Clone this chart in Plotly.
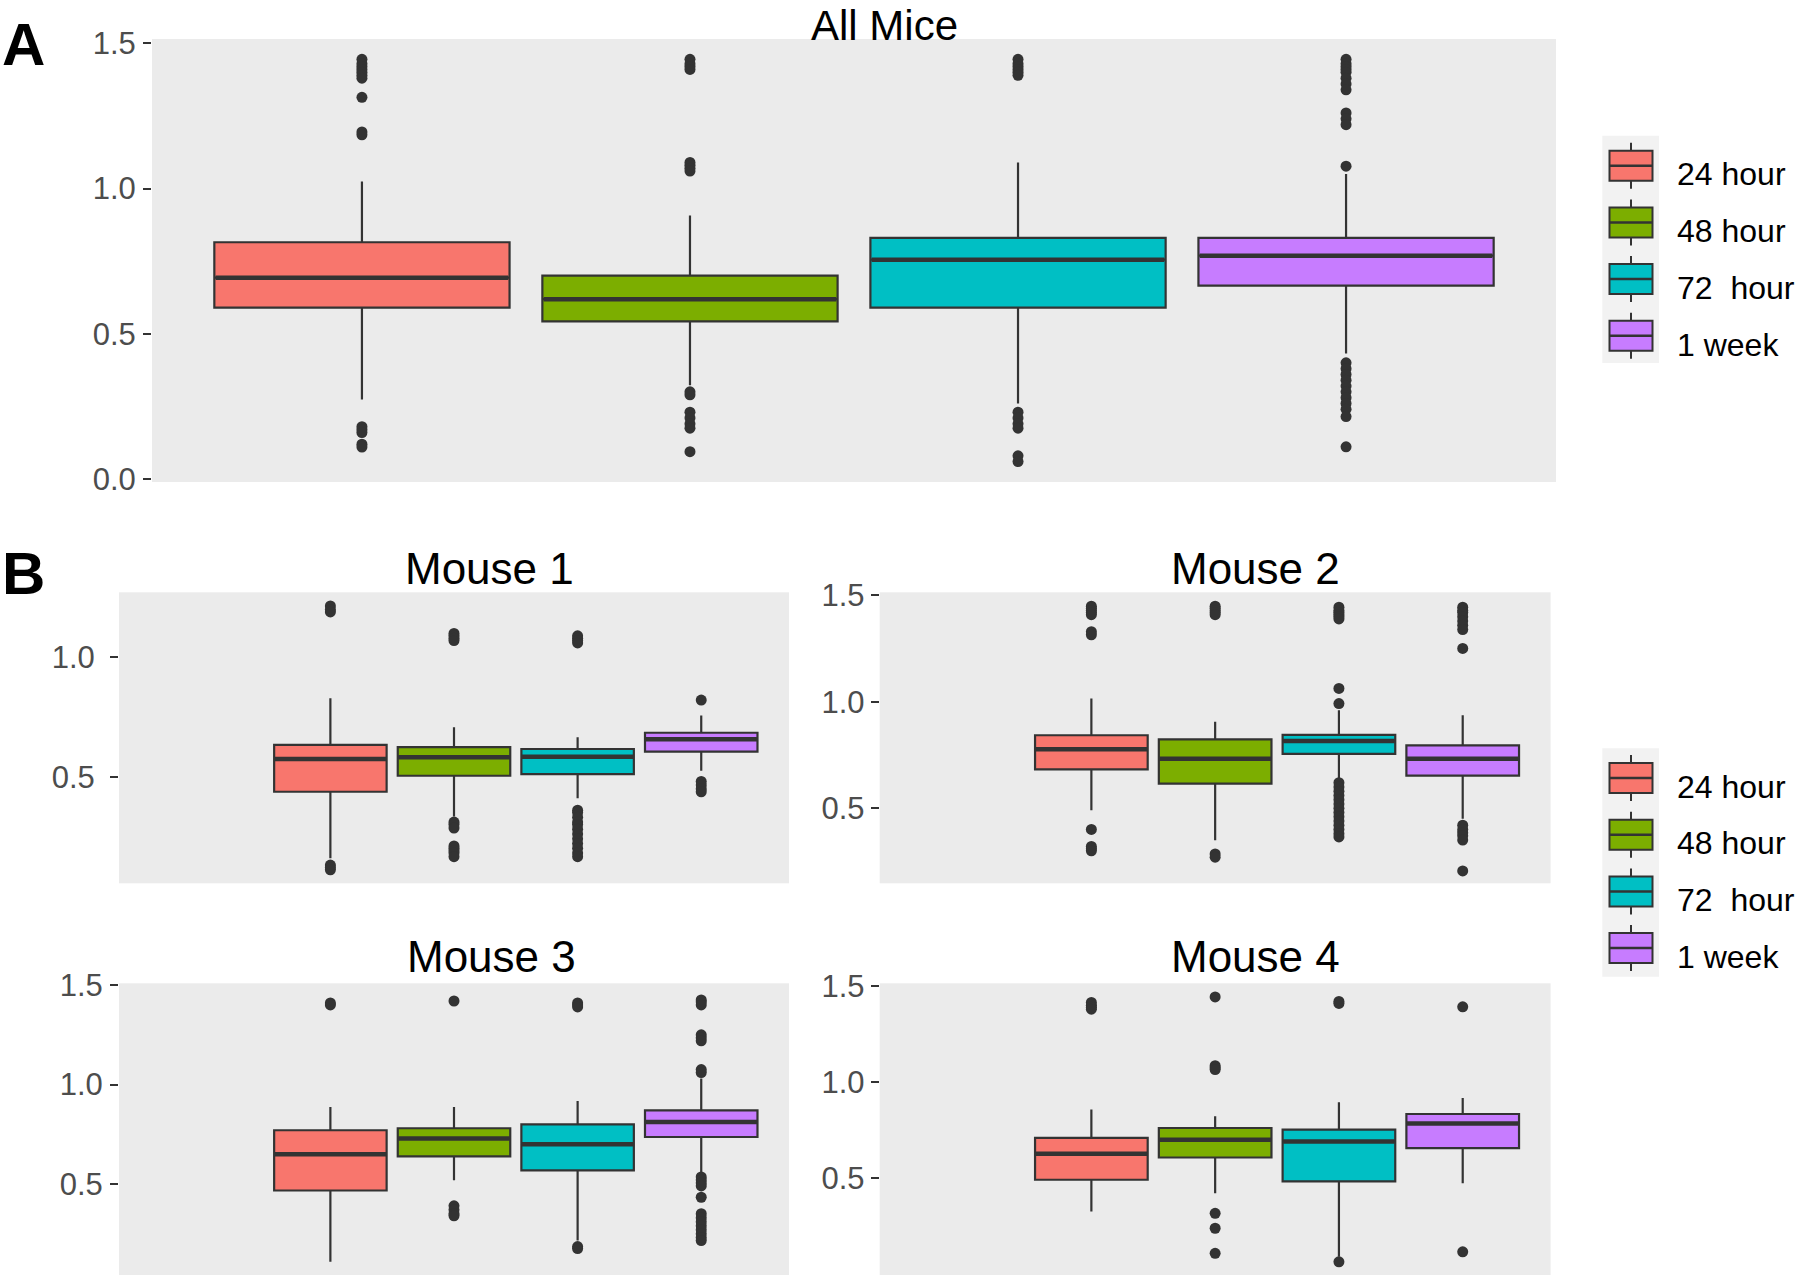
import plotly.graph_objects as go

W, H = 1800, 1275
FONT = "Liberation Sans, Arial, Helvetica, sans-serif"
OUTLINE = "#333333"

groups = ["24 hour", "48 hour", "72  hour", "1 week"]
colors = ["#F8766D", "#7CAE00", "#00BFC4", "#C77CFF"]
panel_titles = ["All Mice", "Mouse 1", "Mouse 2", "Mouse 3", "Mouse 4"]
ticks_all = [0.0, 0.5, 1.0, 1.5]
ticks_m1 = [0.5, 1.0]
ticks_m = [0.5, 1.0, 1.5]

# ---- All Mice ----
all_q1 = [0.590, 0.543, 0.590, 0.666]
all_med = [0.693, 0.619, 0.755, 0.769]
all_q3 = [0.815, 0.700, 0.830, 0.830]
all_lo = [0.274, 0.323, 0.260, 0.432]
all_hi = [1.024, 0.907, 1.090, 1.050]
all_out = [
    [1.445, 1.43, 1.42, 1.41, 1.40, 1.39, 1.38, 1.314, 1.195, 1.185, 0.18, 0.17, 0.16, 0.12, 0.11],
    [1.445, 1.43, 1.42, 1.41, 1.09, 1.08, 1.07, 1.06, 0.30, 0.29, 0.23, 0.21, 0.19, 0.175, 0.094],
    [1.445, 1.43, 1.42, 1.41, 1.40, 1.39, 0.23, 0.21, 0.19, 0.175, 0.08, 0.06],
    [1.445, 1.43, 1.42, 1.41, 1.40, 1.38, 1.36, 1.34, 1.26, 1.24, 1.22, 1.077,
     0.40, 0.38, 0.36, 0.34, 0.32, 0.30, 0.28, 0.26, 0.24, 0.215, 0.111],
]

# ---- Mouse 1 ----
m1_q1 = [0.437, 0.504, 0.511, 0.605]
m1_med = [0.574, 0.581, 0.584, 0.657]
m1_q3 = [0.633, 0.624, 0.616, 0.684]
m1_lo = [0.158, 0.333, 0.410, 0.525]
m1_hi = [0.828, 0.707, 0.665, 0.756]
m1_out = [
    [1.215, 1.20, 1.19, 0.13, 0.12, 0.11],
    [1.10, 1.09, 1.08, 1.07, 0.31, 0.30, 0.285, 0.21, 0.20, 0.19, 0.18, 0.165],
    [1.09, 1.08, 1.07, 1.06, 0.36, 0.35, 0.33, 0.31, 0.30, 0.28, 0.26, 0.24, 0.22, 0.20, 0.18, 0.165],
    [0.821, 0.48, 0.465, 0.45, 0.437],
]

# ---- Mouse 2 ----
m2_q1 = [0.683, 0.616, 0.755, 0.653]
m2_med = [0.777, 0.732, 0.816, 0.732]
m2_q3 = [0.843, 0.824, 0.845, 0.795]
m2_lo = [0.490, 0.349, 0.639, 0.451]
m2_hi = [1.016, 0.906, 0.961, 0.937]
m2_out = [
    [1.45, 1.44, 1.43, 1.42, 1.41, 1.33, 1.315, 0.40, 0.32, 0.31, 0.30],
    [1.45, 1.44, 1.43, 1.42, 1.41, 0.285, 0.27],
    [1.445, 1.43, 1.42, 1.41, 1.40, 1.39, 1.063, 0.992,
     0.62, 0.60, 0.58, 0.56, 0.54, 0.52, 0.50, 0.48, 0.46, 0.44, 0.42, 0.40, 0.38, 0.365],
    [1.445, 1.43, 1.42, 1.40, 1.38, 1.36, 1.34, 1.251, 0.42, 0.40, 0.385, 0.37, 0.35, 0.205],
]

# ---- Mouse 3 ----
m3_q1 = [0.467, 0.639, 0.568, 0.736]
m3_med = [0.649, 0.728, 0.699, 0.812]
m3_q3 = [0.770, 0.780, 0.800, 0.870]
m3_lo = [0.109, 0.518, 0.215, 0.560]
m3_hi = [0.887, 0.887, 0.917, 1.030]
m3_out = [
    [1.41, 1.40],
    [1.42, 0.39, 0.37, 0.35, 0.34],
    [1.41, 1.40, 1.39, 0.185, 0.175],
    [1.425, 1.415, 1.40, 1.25, 1.235, 1.22, 1.075, 1.06,
     0.535, 0.52, 0.505, 0.49, 0.433, 0.35, 0.33, 0.31, 0.29, 0.27, 0.25, 0.23, 0.215],
]

# ---- Mouse 4 ----
m4_q1 = [0.490, 0.606, 0.481, 0.655]
m4_med = [0.626, 0.699, 0.690, 0.783]
m4_q3 = [0.708, 0.760, 0.751, 0.833]
m4_lo = [0.324, 0.420, 0.088, 0.472]
m4_hi = [0.856, 0.821, 0.894, 0.917]
m4_out = [
    [1.415, 1.40, 1.39, 1.38],
    [1.444, 1.085, 1.075, 1.065, 0.315, 0.237, 0.106],
    [1.42, 1.41, 0.062],
    [1.392, 0.114],
]

panels = [
    (all_q1, all_med, all_q3, all_lo, all_hi, all_out),
    (m1_q1, m1_med, m1_q3, m1_lo, m1_hi, m1_out),
    (m2_q1, m2_med, m2_q3, m2_lo, m2_hi, m2_out),
    (m3_q1, m3_med, m3_q3, m3_lo, m3_hi, m3_out),
    (m4_q1, m4_med, m4_q3, m4_lo, m4_hi, m4_out),
]
panel_ticks = [ticks_all, ticks_m1, ticks_m, ticks_m, ticks_m]


def fx(x):
    return x / W


def fy(y):
    return 1 - y / H


# panel geometry in pixels: left, right, top, bottom
geom = [
    (152, 1556, 39, 482),
    (119, 789, 592.3, 883.3),
    (879.7, 1550.6, 592.3, 883.3),
    (119, 789, 983.3, 1275),
    (879.7, 1550.6, 983.3, 1275),
]
xranges = [[-0.64, 3.64], [-1.71, 3.71], [-1.71, 3.71], [-1.71, 3.71], [-1.71, 3.71]]
yranges = [[-0.0103, 1.5148], [0.0536, 1.2722], [0.147, 1.515], [0.042, 1.509], [-0.007, 1.515]]
box_w = [0.90, 0.91, 0.91, 0.91, 0.91]
standoffs = [1, 9, 0, 1, 0]
title_pos = [(884, 568.1), (489.7, 568.1), (1255.5, 568.1), (492, 956.5), (1255.5, 956.5)]

fig = go.Figure()
layout = {}
for p, (q1, med, q3, lo, hi, out) in enumerate(panels):
    sfx = "" if p == 0 else str(p + 1)
    xa, ya = "x" + sfx, "y" + sfx
    for g in range(4):
        fig.add_trace(go.Box(
            x=[g], q1=[q1[g]], median=[med[g]], q3=[q3[g]],
            lowerfence=[lo[g]], upperfence=[hi[g]],
            orientation="v", width=box_w[p], whiskerwidth=0, boxpoints=False,
            fillcolor=colors[g], line=dict(color=OUTLINE, width=2.2),
            name=groups[g], showlegend=False, xaxis=xa, yaxis=ya,
        ))
        half = box_w[p] / 2 - 0.004
        fig.add_trace(go.Scatter(
            x=[g - half, g + half], y=[med[g], med[g]], mode="lines",
            line=dict(color=OUTLINE, width=4.5), showlegend=False,
            hoverinfo="skip", xaxis=xa, yaxis=ya,
        ))
        fig.add_trace(go.Scatter(
            x=[g] * len(out[g]), y=out[g], mode="markers",
            marker=dict(size=11, color=OUTLINE), name=groups[g],
            showlegend=False, xaxis=xa, yaxis=ya,
        ))
    l, r, t, b = geom[p]
    tv = panel_ticks[p]
    layout["xaxis" + sfx] = dict(
        domain=[fx(l), fx(r)], range=xranges[p], anchor=ya, automargin=False,
        showticklabels=False, ticks="", showgrid=False, zeroline=False, showline=False,
    )
    layout["yaxis" + sfx] = dict(
        domain=[fy(b), fy(t)], range=yranges[p], anchor=xa, automargin=False,
        tickvals=tv, ticktext=["%.1f" % v for v in tv], ticks="outside", ticklen=8,
        tickwidth=1.6, tickcolor=OUTLINE, showgrid=False, zeroline=False, showline=False,
        tickfont=dict(family=FONT, size=31, color="#4D4D4D"),
        ticklabelstandoff=standoffs[p],
    )

annotations = []
for p, (cx, cy) in enumerate(title_pos):
    if p == 0:
        # top title: anchored to the top edge so it stays fully inside the page
        annotations.append(dict(
            text=panel_titles[p], x=fx(cx), y=1, xref="paper", yref="paper",
            xanchor="center", yanchor="top", showarrow=False,
            font=dict(family=FONT, size=42, color="black"),
        ))
    else:
        annotations.append(dict(
            text=panel_titles[p], x=fx(cx), y=fy(cy), xref="paper", yref="paper",
            xanchor="center", yanchor="middle", showarrow=False,
            font=dict(family=FONT, size=44, color="black"),
        ))
for lab, cy in [("A", 44.2), ("B", 573.2)]:
    annotations.append(dict(
        text="<b>%s</b>" % lab, x=0, y=fy(cy), xref="paper", yref="paper",
        xanchor="left", yanchor="middle", showarrow=False,
        font=dict(family=FONT, size=60, color="black"),
    ))

shapes = []
for top, bottom, c0 in [(135.7, 363, 165.7), (748.3, 976.7, 778)]:
    shapes.append(dict(type="rect", xref="paper", yref="paper",
                       x0=fx(1602.3), x1=fx(1659), y0=fy(bottom), y1=fy(top),
                       fillcolor="#F2F2F2", line=dict(width=0), layer="above"))
    for g in range(4):
        cy = c0 + 56.7 * g
        shapes.append(dict(type="line", xref="paper", yref="paper",
                           x0=fx(1631), x1=fx(1631), y0=fy(cy - 23), y1=fy(cy + 23),
                           line=dict(color=OUTLINE, width=2), layer="above"))
        shapes.append(dict(type="rect", xref="paper", yref="paper",
                           x0=fx(1609.5), x1=fx(1652.5), y0=fy(cy + 15), y1=fy(cy - 15),
                           fillcolor=colors[g], line=dict(color=OUTLINE, width=2), layer="above"))
        shapes.append(dict(type="line", xref="paper", yref="paper",
                           x0=fx(1609.5), x1=fx(1652.5), y0=fy(cy), y1=fy(cy),
                           line=dict(color=OUTLINE, width=2.5), layer="above"))
        annotations.append(dict(
            text=groups[g].replace("  ", "&nbsp; "), x=fx(1675), y=fy(cy + 8.7),
            xref="paper", yref="paper", xanchor="left", yanchor="middle",
            showarrow=False, font=dict(family=FONT, size=32, color="black"),
        ))

fig.update_layout(
    width=W, height=H, margin=dict(l=0, r=0, t=0, b=0, autoexpand=False),
    paper_bgcolor="white", plot_bgcolor="#EBEBEB", showlegend=False,
    annotations=annotations, shapes=shapes, **layout,
)
fig.write_html("out.html", config={"displayModeBar": False},
               post_script="document.body.style.margin='0';")
